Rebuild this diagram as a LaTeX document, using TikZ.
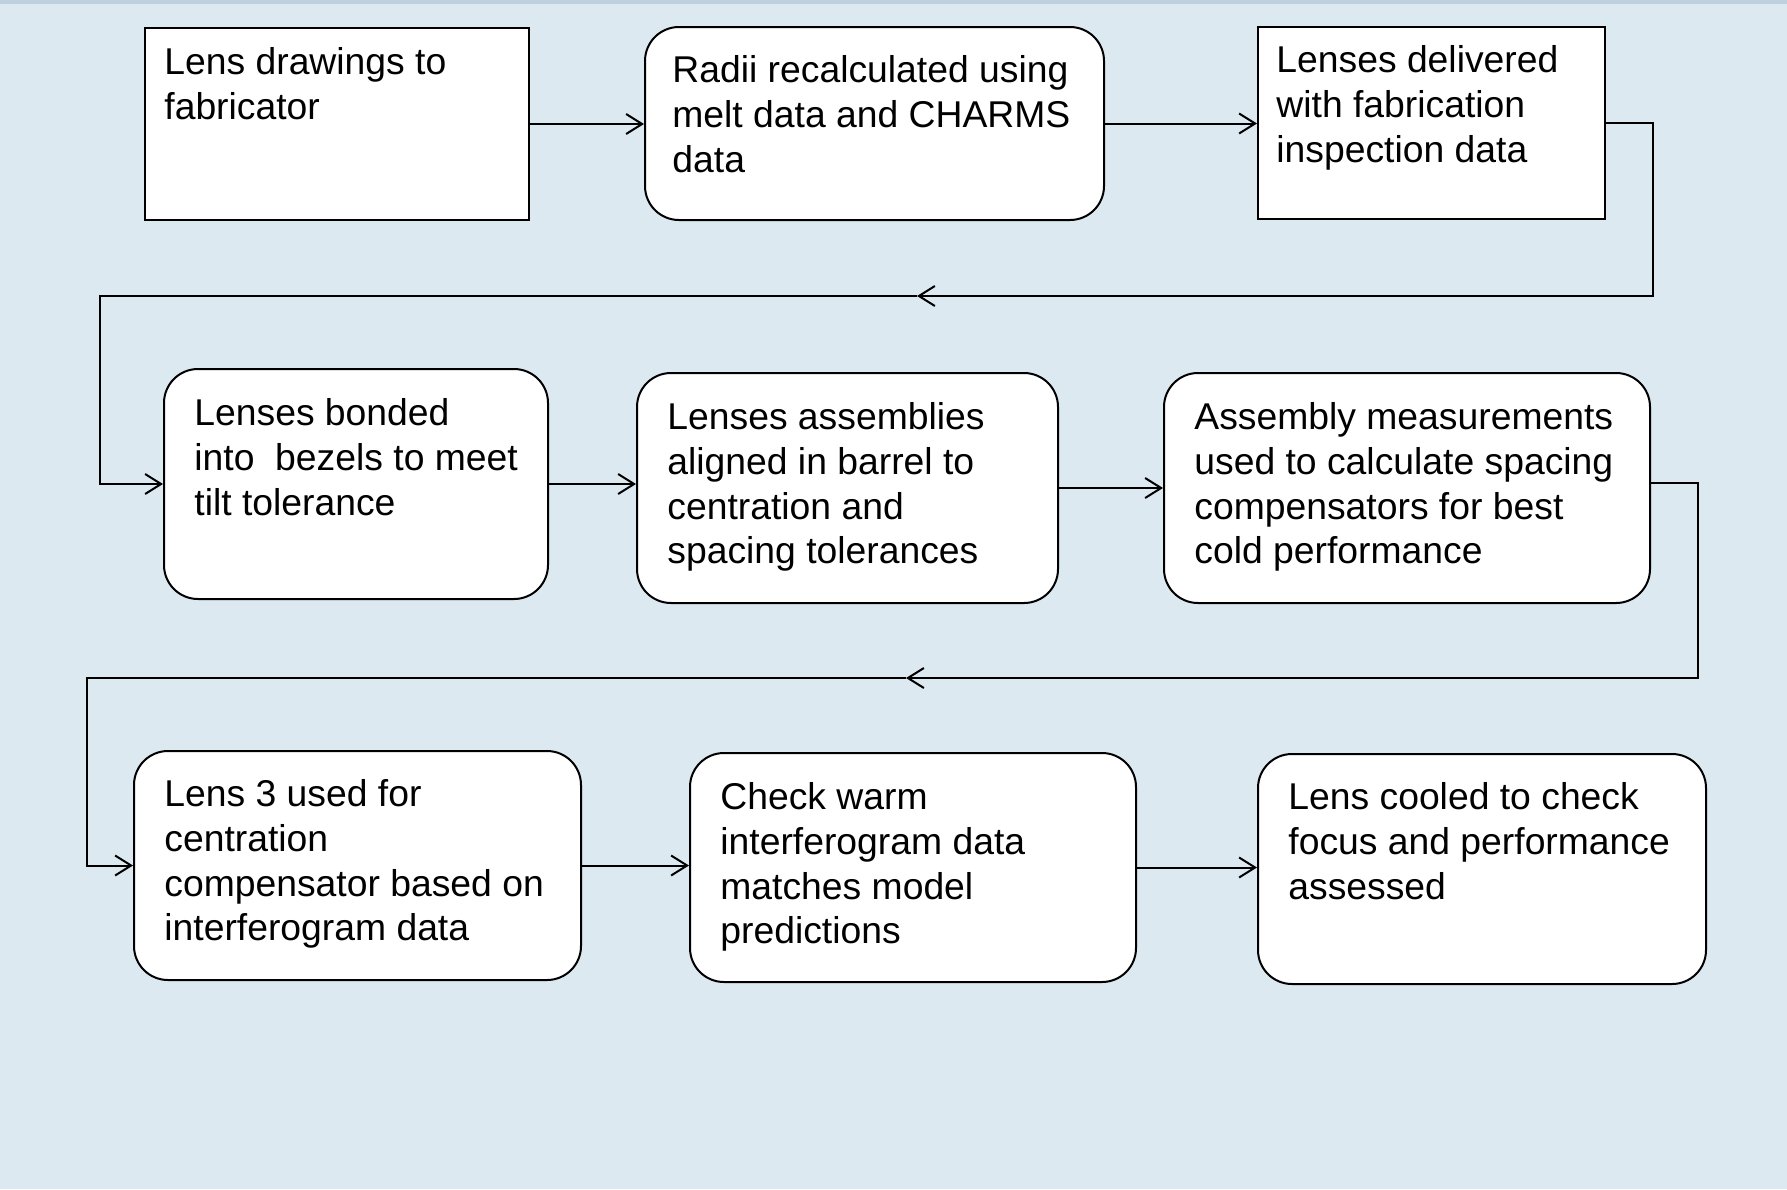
\documentclass[tikz,border=0pt]{standalone}
\usepackage{fontspec}
\setmainfont{Liberation Sans}
\usetikzlibrary{arrows.meta,calc}
\definecolor{bg}{HTML}{DDE9F0}
\definecolor{topband}{HTML}{BFD1DD}
\begin{document}
\begin{tikzpicture}[x=0.5pt,y=-0.5pt,
  box/.style={draw=black,line width=1pt,fill=white,inner sep=0pt},
  sq/.style={box},
  rnd/.style={box,rounded corners=17pt},
  txt/.style={anchor=north west,inner sep=0pt,align=left,font=\fontsize{18.65}{22.4}\selectfont},
  conn/.style={line width=1pt,-{Straight Barb[length=8pt,width=10pt,line width=1pt]}}]
\fill[bg] (0,0) rectangle (1787,1189);
\fill[topband] (0,0) rectangle (1787,4);
\useasboundingbox (0,0) rectangle (1787,1189);

% Row 1
\node[sq,minimum width=192pt,minimum height=96pt] (b1) at (337,124) {};
\node[txt] (t1) at ($(b1.north west)+(20,20)$) {Lens drawings to\\fabricator};
\node[rnd,minimum width=229.5pt,minimum height=96.5pt] (b2) at (874.5,123.5) {};
\node[txt] (t2) at ($(b2.north west)+(28,29)$) {Radii recalculated using\\melt data and CHARMS\\data};
\node[sq,minimum width=173.5pt,minimum height=96pt] (b3) at (1431.5,123) {};
\node[txt] (t3) at ($(b3.north west)+(19,19)$) {Lenses delivered\\with fabrication\\inspection data};

% Row 2
\node[rnd,minimum width=192pt,minimum height=115pt] (b4) at (356,484) {};
\node[txt] (t4) at ($(b4.north west)+(31,30)$) {Lenses bonded\\into\ \ bezels to meet\\tilt tolerance};
\node[rnd,minimum width=210.5pt,minimum height=115pt] (b5) at (847.5,488) {};
\node[txt] (t5) at ($(b5.north west)+(31,30)$) {Lenses assemblies\\aligned in barrel to\\centration and\\spacing tolerances};
\node[rnd,minimum width=243pt,minimum height=115pt] (b6) at (1407,488) {};
\node[txt] (t6) at ($(b6.north west)+(31,30)$) {Assembly measurements\\used to calculate spacing\\compensators for best\\cold performance};

% Row 3
\node[rnd,minimum width=223.5pt,minimum height=114.5pt] (b7) at (357.5,865.5) {};
\node[txt] (t7) at ($(b7.north west)+(31,29)$) {Lens 3 used for\\centration\\compensator based on\\interferogram data};
\node[rnd,minimum width=223pt,minimum height=114.5pt] (b8) at (913,867.5) {};
\node[txt] (t8) at ($(b8.north west)+(31,30)$) {Check warm\\interferogram data\\matches model\\predictions};
\node[rnd,minimum width=224pt,minimum height=115pt] (b9) at (1482,869) {};
\node[txt] (t9) at ($(b9.north west)+(31,29)$) {Lens cooled to check\\focus and performance\\assessed};

% connectors
\draw[conn] (b1.east) -- (b1.east -| b2.west);
\draw[conn] (b2.east) -- (b2.east -| b3.west);
\coordinate (c1) at (1653,296);
\coordinate (m1) at (917,296);
\coordinate (c2) at (100,296);
\draw[conn] (b3.east) -| (c1) -- (m1);
\draw[conn] (m1) -- (c2) |- (b4.west);

\draw[conn] (b4.east) -- (b4.east -| b5.west);
\draw[conn] (b5.east) -- (b5.east -| b6.west);
\coordinate (s6) at ($(b6.east)+(0,-5)$);
\coordinate (c3) at (1698,678);
\coordinate (m2) at (906,678);
\coordinate (c4) at (87,678);
\draw[conn] (s6) -| (c3) -- (m2);
\draw[conn] (m2) -- (c4) |- (b7.west);

\draw[conn] (b7.east) -- (b7.east -| b8.west);
\draw[conn] (b8.east) -- (b8.east -| b9.west);
\end{tikzpicture}
\end{document}
